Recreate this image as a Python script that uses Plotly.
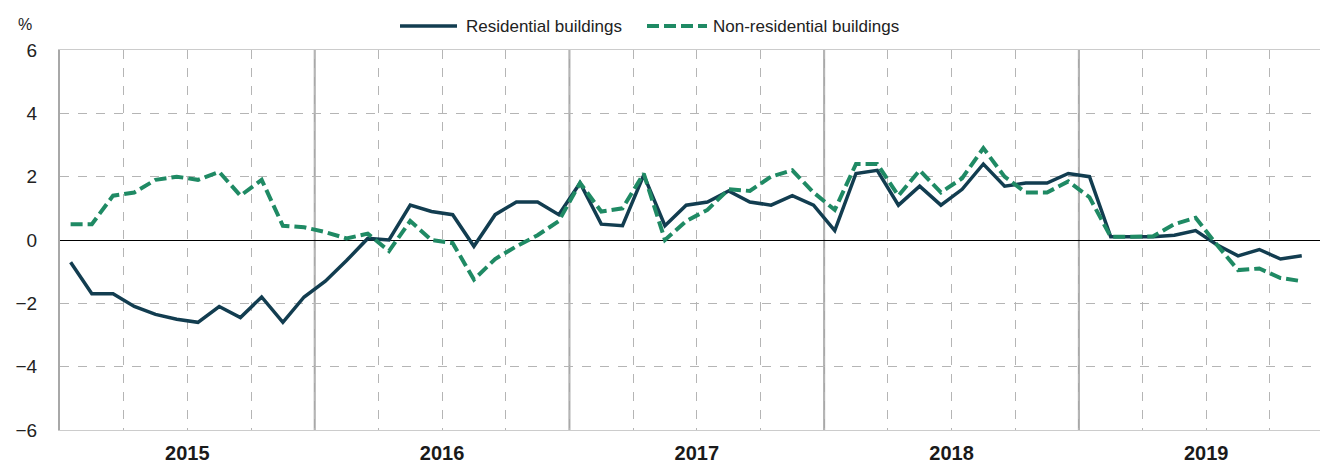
import pandas as pd
import plotly.graph_objects as go

# ---- data (monthly, Jan 2015 - Nov 2019) ----
start_month = "2015-01"
residential = [-0.7, -1.7, -1.7, -2.1, -2.35, -2.5, -2.6, -2.1, -2.45, -1.8, -2.6, -1.8,
               -1.3, -0.65, 0.05, 0.0, 1.1, 0.9, 0.8, -0.2, 0.8, 1.2, 1.2, 0.8,
               1.8, 0.5, 0.45, 2.05, 0.45, 1.1, 1.2, 1.55, 1.2, 1.1, 1.4, 1.1,
               0.3, 2.1, 2.2, 1.1, 1.7, 1.1, 1.6, 2.4, 1.7, 1.8, 1.8, 2.1,
               2.0, 0.1, 0.1, 0.1, 0.15, 0.3, -0.15, -0.5, -0.3, -0.6, -0.5]
non_residential = [0.5, 0.5, 1.4, 1.5, 1.9, 2.0, 1.9, 2.15, 1.4, 1.9, 0.45, 0.4,
                   0.25, 0.05, 0.2, -0.35, 0.6, 0.0, -0.1, -1.25, -0.6, -0.2, 0.15, 0.6,
                   1.8, 0.9, 1.0, 2.1, 0.0, 0.6, 0.95, 1.6, 1.55, 2.0, 2.2, 1.5,
                   0.95, 2.4, 2.4, 1.4, 2.2, 1.5, 1.95, 2.9, 2.0, 1.5, 1.5, 1.85,
                   1.35, 0.1, 0.1, 0.12, 0.5, 0.7, -0.15, -0.95, -0.9, -1.2, -1.3]
years = [2015, 2016, 2017, 2018, 2019]
series_names = ["Residential buildings", "Non-residential buildings"]

months = pd.date_range(start_month, periods=len(residential), freq="MS")
base_year = months[0].year
# month index, plotted in the middle of each month slot
xpos = [(d.year - base_year) * 12 + d.month - 1 + 0.5 for d in months]
year_centers = [(y - base_year) * 12 + 6 for y in years]
year_bounds = [(y - base_year) * 12 for y in years[1:]]

FONT = "Liberation Sans, Arial, sans-serif"
COL_RES = "#123d50"
COL_NON = "#1f8a64"
DASH = "12px,5px"

W, H = 1320, 465
ML, MR, MT, MB = 60, 0, 50, 35
PW, PH = W - ML - MR, H - MT - MB


def px2paper(px, py):
    return (px - ML) / PW, (H - MB - py) / PH


fig = go.Figure()
fig.add_trace(go.Scatter(x=xpos, y=residential, mode="lines", name=series_names[0],
                         line=dict(color=COL_RES, width=3.5), showlegend=False))
fig.add_trace(go.Scatter(x=xpos, y=non_residential, mode="lines", name=series_names[1],
                         line=dict(color=COL_NON, width=4, dash=DASH), showlegend=False))

for b in year_bounds:
    fig.add_shape(type="line", xref="x", yref="paper", x0=b, x1=b, y0=0, y1=1,
                  line=dict(color="#a8a8a8", width=2), layer="below")

# legend drawn in the header (long line samples like the original)
legend_items = [(series_names[0], COL_RES, "solid", 3.5, 400, 457, 464),
                (series_names[1], COL_NON, DASH, 4, 647, 707, 711)]
for name, col, dash, w, x0, x1, xt in legend_items:
    a0, b0 = px2paper(x0, 26)
    a1, _ = px2paper(x1, 26)
    fig.add_shape(type="line", xref="paper", yref="paper", x0=a0, x1=a1, y0=b0, y1=b0,
                  line=dict(color=col, width=w, dash=dash))
    at, bt = px2paper(xt, 26)
    fig.add_annotation(text=name, xref="paper", yref="paper", x=at, y=bt,
                       xanchor="left", yanchor="middle", showarrow=False,
                       font=dict(size=17, family=FONT, color="#222222"))

fig.update_layout(
    width=W, height=H,
    margin=dict(l=ML, r=MR, t=MT, b=MB, autoexpand=False),
    paper_bgcolor="white", plot_bgcolor="white",
    font=dict(family=FONT, color="#222222", size=16),
    showlegend=False,
    xaxis=dict(range=[0, 59.36], tickmode="array", tickvals=year_centers,
               ticktext=[str(y) for y in years], showgrid=False, zeroline=False,
               ticks="", ticklabelstandoff=5, automargin=False,
               tickfont=dict(size=20, family=FONT, color="#1a1a1a", weight="bold"),
               showline=True, mirror=True, linecolor="#cccccc", linewidth=1,
               minor=dict(tickmode="linear", tick0=0, dtick=3, showgrid=True,
                          griddash="dash", gridcolor="#b5b5b5", gridwidth=1, ticks="")),
    yaxis=dict(range=[-6, 6], tickmode="linear", tick0=-6, dtick=2,
               showgrid=True, griddash="dash", gridcolor="#b5b5b5", gridwidth=1,
               zeroline=True, zerolinecolor="#000000", zerolinewidth=1,
               showline=True, linecolor="#a8a8a8", linewidth=2,
               ticks="", ticklabelstandoff=17, automargin=False,
               tickfont=dict(size=19, family=FONT, color="#222222")),
)
pa, pb = px2paper(25, 25)
fig.add_annotation(text="%", xref="paper", yref="paper", x=pa, y=pb,
                   xanchor="center", yanchor="middle", showarrow=False,
                   font=dict(size=16, family=FONT, color="#222222"))

fig.write_html("out.html", config={"displayModeBar": False},
               post_script="document.body.style.margin='0';document.body.style.overflow='hidden';")
